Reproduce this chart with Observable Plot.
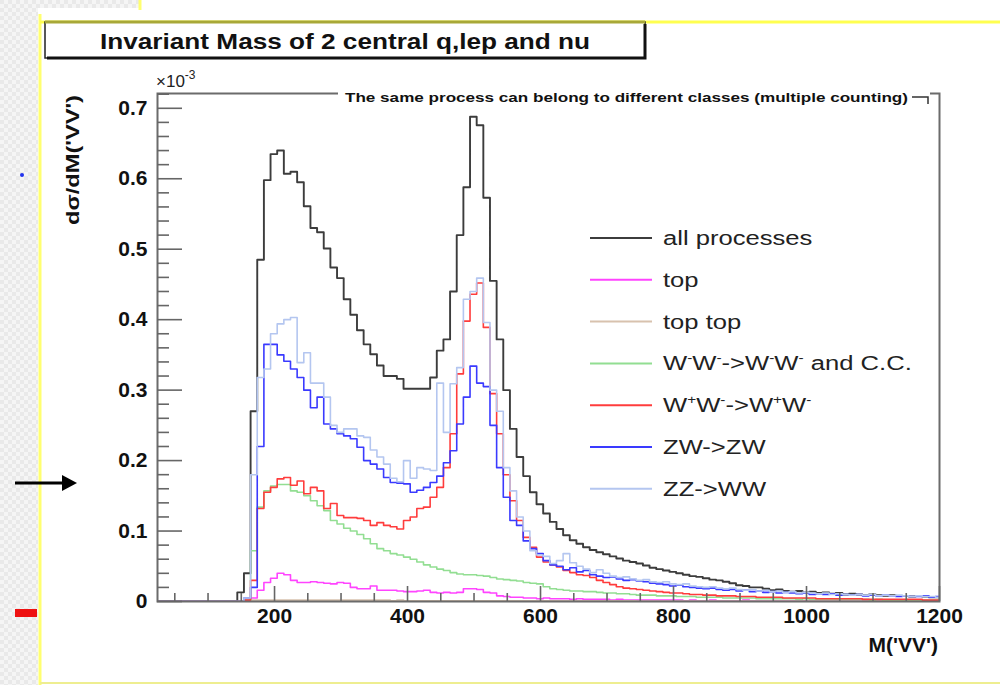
<!DOCTYPE html>
<html><head><meta charset="utf-8">
<script src="https://cdn.jsdelivr.net/npm/d3@7"></script>
<script src="https://cdn.jsdelivr.net/npm/@observablehq/plot@0.6"></script>
<style>
body{margin:0;background:#fff;}
#chart{position:relative;width:1000px;height:685px;overflow:hidden;}
</style>
</head><body><div id="chart"></div>
<script>
// ---------- data ----------
const chartTitle = "Invariant Mass of 2 central q,lep and nu";
const legendHeader = "The same process can belong to different classes (multiple counting)";
const xLabel = "M('VV')";
const yLabel = "dσ/dM('VV')";
const binWidth = 10;
const binEdges = d3.range(24, 1200, binWidth); // left edges of the 118 mass bins

const yMajor = [0, 0.1, 0.2, 0.3, 0.4, 0.5, 0.6, 0.7];
const yMinor = [0.02,0.04,0.06,0.08,0.12,0.14,0.16,0.18,0.22,0.24,0.26,0.28,0.32,0.34,0.36,0.38,0.42,0.44,0.46,0.48,0.52,0.54,0.56,0.58,0.62,0.64,0.66,0.68,0.72];
const xMajor = [200, 400, 600, 800, 1000, 1200];
const xMinor = [50,100,150,250,300,350,450,500,550,650,700,750,850,900,950,1050,1100,1150];

const allProcesses = [
0,0,0,0,0,0,0,0,0,0,0,0,
0.013,0.040,0.270,0.485,0.598,0.635,0.640,0.607,0.610,0.595,
0.561,0.530,0.524,0.501,0.474,0.459,0.429,0.407,0.385,0.365,
0.351,0.335,0.320,0.320,0.316,0.302,0.302,0.302,0.302,0.318,
0.356,0.372,0.440,0.520,0.588,0.688,0.676,0.573,0.455,0.372,
0.300,0.245,0.205,0.178,0.155,0.138,0.125,0.113,0.103,0.094,
0.087,0.082,0.077,0.073,0.070,0.067,0.064,0.061,0.058,0.056,
0.054,0.051,0.048,0.046,0.044,0.042,0.040,0.038,0.036,0.035,
0.033,0.031,0.030,0.028,0.026,0.023,0.022,0.020,0.020,0.018,
0.016,0.017,0.015,0.014,0.015,0.013,0.014,0.012,0.013,0.011,
0.012,0.010,0.011,0.010,0.009,0.010,0.009,0.008,0.009,0.008,
0.008,0.007,0.008,0.007,0.006,0.006];

const top1 = [
0,0,0,0,0,0,0,0,0,0,0,0,
0,0.002,0.005,0.016,0.027,0.033,0.040,0.038,0.030,0.027,
0.027,0.028,0.027,0.026,0.025,0.027,0.026,0.020,0.018,0.018,
0.022,0.016,0.016,0.016,0.015,0.014,0.014,0.015,0.016,0.013,
0.012,0.013,0.012,0.013,0.018,0.018,0.017,0.013,0.012,0.008,
0.007,0.006,0.006,0.005,0.005,0.004,0.005,0.004,0.004,0.004,
0.003,0.004,0.003,0.003,0.003,0.003,0.002,0.003,0.002,0.002,
0.002,0.002,0.002,0.002,0.002,0.002,0.002,0.001,0.002,0.001,
0.001,0.002,0.001,0.001,0.001,0.001,0.002,0.001,0.001,0.001,
0.001,0.001,0.001,0.001,0.001,0.001,0.001,0.001,0.001,0.001,
0.001,0.001,0.001,0.001,0.001,0.001,0.001,0.001,0.001,0.001,
0.001,0.001,0.001,0.001,0.001,0.001];

const topTop = [
0,0,0,0,0,0,0,0,0,0,0,0,
0,0.001,0.002,0.002,0.002,0.002,0.002,0.002,0.002,0.002,
0.002,0.002,0.002,0.002,0.002,0.002,0.002,0.002,0.002,0.002,
0.002,0.002,0.002,0.001,0.002,0.001,0.001,0.001,0.001,0.001,
0.001,0.001,0.001,0.001,0.001,0.001,0.001,0.001,0.001,0.001,
0.001,0.001,0.001,0.001,0.001,0.001,0.001,0.001,0.001,0.001,
0.001,0.001,0.001,0.001,0.001,0.001,0.001,0.001,0.001,0.001,
0.0005,0.0005,0.0005,0.0005,0.0005,0.0005,0.0005,0.0005,0.0005,0.0005,
0.0005,0.0005,0.0005,0.0005,0.0005,0.0005,0.0005,0.0005,0.0005,0.0005,
0.0005,0.0005,0.0005,0.0005,0.0005,0.0005,0.0005,0.0005,0.0005,0.0005,
0.0005,0.0005,0.0005,0.0005,0.0005,0.0005,0.0005,0.0005,0.0005,0.0005,
0.0005,0.0005,0.0005,0.0005,0.0005,0.0005];

const wmwm = [
0,0,0,0,0,0,0,0,0,0,0,0,
0,0.002,0.072,0.134,0.157,0.164,0.166,0.166,0.157,0.155,
0.150,0.143,0.136,0.129,0.115,0.110,0.104,0.100,0.095,0.089,
0.082,0.075,0.072,0.068,0.066,0.063,0.060,0.056,0.052,0.049,
0.046,0.044,0.041,0.039,0.038,0.038,0.037,0.036,0.034,0.032,
0.031,0.030,0.029,0.027,0.026,0.025,0.021,0.018,0.017,0.016,
0.015,0.015,0.014,0.014,0.013,0.012,0.012,0.011,0.011,0.010,
0.009,0.009,0.009,0.008,0.008,0.008,0.007,0.007,0.007,0.006,
0.006,0.006,0.006,0.005,0.005,0.005,0.005,0.005,0.004,0.004,
0.004,0.004,0.004,0.004,0.003,0.004,0.003,0.003,0.003,0.003,
0.003,0.003,0.003,0.003,0.003,0.002,0.003,0.002,0.002,0.002,
0.002,0.002,0.002,0.002,0.002,0.002];

const wpwm = [
0,0,0,0,0,0,0,0,0,0,0,0,
0,0.002,0.030,0.132,0.155,0.162,0.174,0.176,0.165,0.171,
0.153,0.162,0.157,0.132,0.139,0.122,0.119,0.119,0.118,0.115,
0.108,0.112,0.108,0.106,0.103,0.115,0.120,0.132,0.134,0.148,
0.162,0.190,0.238,0.323,0.398,0.436,0.452,0.389,0.295,0.238,
0.180,0.143,0.115,0.091,0.077,0.063,0.056,0.052,0.049,0.044,
0.041,0.038,0.037,0.034,0.030,0.027,0.024,0.021,0.019,0.018,
0.017,0.016,0.015,0.014,0.013,0.012,0.012,0.011,0.010,0.010,
0.009,0.009,0.008,0.008,0.008,0.007,0.007,0.007,0.006,0.006,
0.006,0.006,0.005,0.005,0.005,0.005,0.005,0.004,0.004,0.004,
0.004,0.004,0.004,0.004,0.003,0.003,0.003,0.003,0.003,0.003,
0.003,0.003,0.003,0.002,0.002,0.002];

const zwzw = [
0,0,0,0,0,0,0,0,0,0,0,0,
0,0.005,0.020,0.220,0.365,0.365,0.350,0.341,0.330,0.318,
0.300,0.275,0.290,0.252,0.245,0.238,0.235,0.231,0.219,0.200,
0.195,0.188,0.176,0.169,0.168,0.167,0.155,0.158,0.162,0.169,
0.178,0.197,0.214,0.252,0.290,0.334,0.310,0.305,0.250,0.190,
0.148,0.115,0.108,0.086,0.075,0.068,0.058,0.052,0.050,0.045,
0.048,0.042,0.044,0.038,0.036,0.034,0.035,0.032,0.030,0.031,
0.029,0.028,0.026,0.025,0.024,0.022,0.023,0.021,0.020,0.019,
0.018,0.019,0.017,0.016,0.017,0.015,0.016,0.014,0.015,0.013,
0.014,0.012,0.013,0.012,0.011,0.012,0.010,0.011,0.010,0.011,
0.009,0.010,0.009,0.010,0.008,0.009,0.008,0.009,0.008,0.007,
0.008,0.007,0.007,0.008,0.006,0.007];

const zzww = [
0,0,0,0,0,0,0,0,0,0,0,0,
0,0.005,0.180,0.318,0.330,0.380,0.394,0.400,0.403,0.339,
0.353,0.310,0.310,0.290,0.250,0.240,0.245,0.245,0.235,0.233,
0.215,0.205,0.195,0.175,0.170,0.200,0.175,0.190,0.188,0.186,
0.310,0.240,0.309,0.332,0.429,0.440,0.459,0.396,0.300,0.270,
0.190,0.157,0.120,0.100,0.072,0.066,0.064,0.054,0.058,0.068,
0.055,0.050,0.046,0.041,0.045,0.040,0.036,0.034,0.035,0.032,
0.030,0.031,0.028,0.027,0.028,0.025,0.024,0.025,0.022,0.021,
0.020,0.021,0.019,0.018,0.019,0.017,0.016,0.017,0.015,0.016,
0.014,0.015,0.013,0.014,0.012,0.013,0.012,0.011,0.012,0.010,
0.011,0.010,0.009,0.010,0.009,0.010,0.008,0.009,0.008,0.009,
0.008,0.007,0.008,0.007,0.007,0.006];

const seriesNames = ["all processes","top","top top","W-W- -> W-W- and C.C.","W+W- -> W+W-","ZW->ZW","ZZ->WW"];
const seriesValues = [allProcesses, top1, topTop, wmwm, wpwm, zwzw, zzww];
const seriesColors = ["#3c3c3c","#ff44ff","#d8c2ae","#92de92","#ff3c3c","#3a3aff","#b4c6f0"];
const seriesWidths = [1.9, 1.6, 1.6, 1.6, 1.6, 1.6, 1.6];

// legend label pieces: [text, superscript?]
const legendLabels = [
  [["all processes",0]],
  [["top",0]],
  [["top top",0]],
  [["W",0],["-",1],["W",0],["-",1],["->W",0],["-",1],["W",0],["-",1],[" and C.C.",0]],
  [["W",0],["+",1],["W",0],["-",1],["->W",0],["+",1],["W",0],["-",1]],
  [["ZW->ZW",0]],
  [["ZZ->WW",0]]
];

// ---------- chart ----------
const W = 1000, H = 685, mL = 157, mR = 61, mT = 93, mB = 84;
const fW = W - mL - mR, fH = H - mT - mB;
const font = "'Liberation Sans', Arial, Helvetica, sans-serif";

function stepData(vals) {
  const pts = binEdges.map((x, i) => ({x, y: vals[i]}));
  pts.push({x: binEdges[binEdges.length - 1] + binWidth, y: vals[vals.length - 1]});
  return pts;
}

const histMarks = seriesValues.map((vals, i) =>
  Plot.line(stepData(vals), {x: "x", y: "y", curve: "step-after", stroke: seriesColors[i], strokeWidth: seriesWidths[i], clip: true})
);

const svg = Plot.plot({
  width: W, height: H,
  marginLeft: mL, marginRight: mR, marginTop: mT, marginBottom: mB,
  x: {domain: [24, 1200]},
  y: {domain: [0, 0.721]},
  style: {fontFamily: font, background: "#fff", color: "#111"},
  marks: [
    ...histMarks,
    Plot.frame({stroke: "#6b6b6b", strokeWidth: 2}),
    Plot.tickY(yMinor, {y: d => d, stroke: "#666", strokeWidth: 1.6, insetRight: fW - 12}),
    Plot.tickY(yMajor, {y: d => d, stroke: "#666", strokeWidth: 1.6, insetRight: fW - 25}),
    Plot.tickX(xMinor, {x: d => d, stroke: "#666", strokeWidth: 1.6, insetTop: fH - 8}),
    Plot.tickX(xMajor, {x: d => d, stroke: "#666", strokeWidth: 1.6, insetTop: fH - 15}),
    Plot.axisY({ticks: yMajor, tickSize: 0, tickPadding: 10, fontSize: 21, fontWeight: "bold", label: null,
      tickFormat: d => d === 0 ? "0" : d.toFixed(1)}),
    Plot.axisX({ticks: xMajor, tickSize: 0, tickPadding: 7, fontSize: 21, fontWeight: "bold", label: null,
      tickFormat: d => String(d)})
  ]
});

document.getElementById("chart").appendChild(svg);
const s = d3.select(svg);

// background decorations (slide frame)
const bg = s.insert("g", ":first-child");
const defs = s.insert("defs", ":first-child");
const pat = defs.append("pattern").attr("id", "chk").attr("width", 8).attr("height", 8).attr("patternUnits", "userSpaceOnUse");
pat.append("rect").attr("width", 8).attr("height", 8).attr("fill", "#f5f5f5");
pat.append("rect").attr("width", 4).attr("height", 4).attr("fill", "#e9e9e9");
pat.append("rect").attr("x", 4).attr("y", 4).attr("width", 4).attr("height", 4).attr("fill", "#e9e9e9");
bg.append("rect").attr("x", 0).attr("y", 0).attr("width", 38).attr("height", H).attr("fill", "url(#chk)");
bg.append("rect").attr("x", 0).attr("y", 0).attr("width", 140).attr("height", 8).attr("fill", "url(#chk)");

const deco = s.append("g").attr("text-anchor", "start");
deco.append("line").attr("x1", 40).attr("x2", 40).attr("y1", 14).attr("y2", H).attr("stroke", "#ffff70").attr("stroke-width", 3);
deco.append("line").attr("x1", 140).attr("x2", 140).attr("y1", 0).attr("y2", 10).attr("stroke", "#ffff70").attr("stroke-width", 3);
deco.append("line").attr("x1", 40).attr("x2", W).attr("y1", 22).attr("y2", 22).attr("stroke", "#ffff50").attr("stroke-width", 3);
deco.append("line").attr("x1", 40).attr("x2", W).attr("y1", 683).attr("y2", 683).attr("stroke", "#eeee90").attr("stroke-width", 2);
deco.append("circle").attr("cx", 22).attr("cy", 175).attr("r", 2).attr("fill", "#2233ee");
deco.append("line").attr("x1", 15).attr("x2", 64).attr("y1", 483).attr("y2", 483).attr("stroke", "#000").attr("stroke-width", 3);
deco.append("path").attr("d", "M62,475 L77,483 L62,491 Z").attr("fill", "#000");
deco.append("rect").attr("x", 15).attr("y", 609).attr("width", 22).attr("height", 8).attr("fill", "#ee1111");

// title box
deco.append("rect").attr("x", 45).attr("y", 22).attr("width", 600).attr("height", 36).attr("fill", "#fff").attr("stroke", "#222").attr("stroke-width", 1.5);
deco.append("line").attr("x1", 45).attr("x2", 645).attr("y1", 22).attr("y2", 22).attr("stroke", "#a8a838").attr("stroke-width", 3);
deco.append("path").attr("d", "M47,58 L645,58 L645,24").attr("fill", "none").attr("stroke", "#111").attr("stroke-width", 3);
deco.append("text").attr("x", 345).attr("y", 48.5).attr("text-anchor", "middle")
  .attr("font-family", font).attr("font-weight", "bold").attr("font-size", 22)
  .attr("textLength", 490).attr("lengthAdjust", "spacingAndGlyphs").attr("fill", "#111").text(chartTitle);

// x10^-3
const ex = deco.append("text").attr("x", 156).attr("y", 87).attr("text-anchor", "start")
  .attr("font-family", font).attr("font-size", 17).attr("fill", "#222");
ex.append("tspan").text("×10");
ex.append("tspan").attr("dy", -8).attr("font-size", 12).text("-3");

// axis titles
deco.append("text").attr("transform", "translate(79,95) rotate(-90)").attr("text-anchor", "end")
  .attr("font-family", font).attr("font-weight", "bold").attr("font-size", 19)
  .attr("textLength", 130).attr("lengthAdjust", "spacingAndGlyphs").attr("fill", "#111").text(yLabel);
deco.append("text").attr("x", 938).attr("y", 652).attr("text-anchor", "end")
  .attr("font-family", font).attr("font-weight", "bold").attr("font-size", 21).attr("fill", "#111").text(xLabel);

// legend header (box top partially hidden by header text)
deco.append("rect").attr("x", 338).attr("y", 86).attr("width", 592).attr("height", 18).attr("fill", "#fff");
deco.append("path").attr("d", "M912,97 L928,97 L928,104").attr("fill", "none").attr("stroke", "#333").attr("stroke-width", 1.5);
deco.append("text").attr("x", 345).attr("y", 101.5).attr("text-anchor", "start")
  .attr("font-family", font).attr("font-weight", "bold").attr("font-size", 12)
  .attr("textLength", 563).attr("lengthAdjust", "spacingAndGlyphs").attr("fill", "#111").text(legendHeader);

// legend entries
const rowY0 = 238, rowStep = 41.8;
legendLabels.forEach((parts, i) => {
  const y = rowY0 + i * rowStep;
  deco.append("line").attr("x1", 590).attr("x2", 652).attr("y1", y).attr("y2", y)
    .attr("stroke", seriesColors[i]).attr("stroke-width", 2);
  const t = deco.append("text").attr("transform", `translate(663,${y + 7}) scale(1.28,1)`)
    .attr("text-anchor", "start")
    .attr("font-family", font).attr("font-size", 20).attr("fill", "#222");
  let raised = false;
  parts.forEach(([txt, sup]) => {
    const sp = t.append("tspan").text(txt);
    if (sup && !raised) { sp.attr("dy", -8).attr("font-size", 12); raised = true; }
    else if (sup && raised) { sp.attr("font-size", 12); }
    else if (!sup && raised) { sp.attr("dy", 8); raised = false; }
  });
});
</script>
</body></html>
